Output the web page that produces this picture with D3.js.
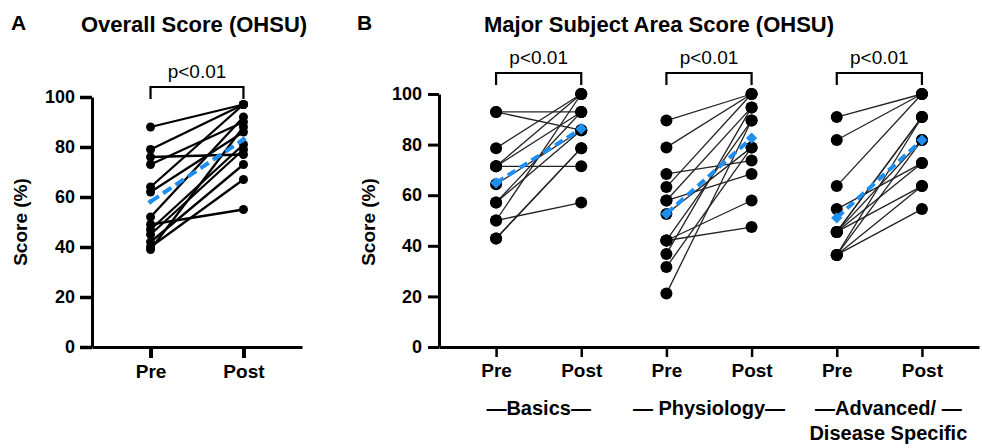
<!DOCTYPE html>
<html>
<head>
<meta charset="utf-8">
<script src="https://cdn.jsdelivr.net/npm/d3@7"></script>
<style>
  body { margin: 0; background: #fff; }
  svg { display: block; font-family: "Liberation Sans", Arial, sans-serif; }
  .axis path, .axis line { stroke: #000; }
  .axis text { font-weight: bold; fill: #000; }
</style>
</head>
<body>
<div id="app"></div>
<script>
// ---- data (scores in %) ----
const timepoints = ['Pre', 'Post']
const yTicks = [0, 20, 40, 60, 80, 100]

const overallPre  = [88, 79, 76, 73, 64, 62, 52, 49, 47, 45, 42, 40, 39]
const overallPost = [97, 97, 77, 90, 97, 86, 92, 55, 81, 79, 73, 67, 88]

const subjects = ['Basics', 'Physiology', 'Advanced']
const subjectLabels = [['\u2014Basics\u2014'], ['\u2014 Physiology\u2014'], ['\u2014Advanced/ \u2014', 'Disease Specific']]
const basicsPre  = [92.9, 92.9, 78.6, 71.4, 71.4, 71.4, 64.3, 57.1, 57.1, 50, 50, 42.9, 42.9]
const basicsPost = [92.9, 85.7, 100, 71.4, 100, 92.9, 85.7, 92.9, 85.7, 57.1, 100, 78.6, 78.6]
const physioPre  = [89.5, 78.9, 68.4, 63.2, 57.9, 57.9, 52.6, 42.1, 42.1, 42.1, 36.8, 31.6, 21.1]
const physioPost = [100, 100, 73.7, 100, 68.4, 94.7, 78.9, 57.9, 47.4, 89.5, 94.7, 78.9, 89.5]
const advPre  = [90.9, 81.8, 63.6, 54.5, 45.5, 45.5, 45.5, 45.5, 45.5, 36.4, 36.4, 36.4, 36.4]
const advPost = [100, 100, 100, 72.7, 90.9, 90.9, 81.8, 72.7, 63.6, 90.9, 63.6, 54.5, 81.8]

const pValue = 'p<0.01'
const BLUE = '#1f8ef1'

const svg = d3.select('#app').append('svg')
    .attr('width', 982)
    .attr('height', 448)

// draws the paired lines + dots + dashed mean for one Pre/Post group
const drawPairs = (g, x, y, pre, post, keys, opt) => {
    const pairs = pre.map((v, i) => [v, post[i]])
    g.append('g').selectAll('line').data(pairs).join('line')
        .attr('x1', x(keys[0])).attr('x2', x(keys[1]))
        .attr('y1', d => y(d[0])).attr('y2', d => y(d[1]))
        .attr('stroke', opt.lineColor).attr('stroke-width', opt.lineW)
    const pts = pre.map(v => [keys[0], v]).concat(post.map(v => [keys[1], v]))
    g.append('g').selectAll('circle').data(pts).join('circle')
        .attr('cx', d => x(d[0])).attr('cy', d => y(d[1]))
        .attr('r', opt.r).attr('fill', '#000')
    // mean line, dashed blue with diamond ends
    const m = [d3.mean(pre), d3.mean(post)]
    g.append('line')
        .attr('x1', x(keys[0])).attr('x2', x(keys[1]))
        .attr('y1', y(m[0])).attr('y2', y(m[1]))
        .attr('stroke', BLUE).attr('stroke-width', opt.meanW)
        .attr('stroke-dasharray', opt.dash)
    g.append('g').selectAll('path').data(m).join('path')
        .attr('d', d3.symbol(d3.symbolSquare, opt.diamond)())
        .attr('transform', (d, i) => `translate(${x(keys[i])},${y(d)}) rotate(45)`)
        .attr('fill', BLUE)
}

// significance bracket above a group
const bracket = (g, x0, x1, yTop, yLeg, label) => {
    g.append('path')
        .attr('d', `M${x0},${yLeg} V${yTop} H${x1} V${yLeg}`)
        .attr('fill', 'none').attr('stroke', '#000').attr('stroke-width', 2.2)
    g.append('text')
        .attr('x', (x0 + x1) / 2).attr('y', yTop - 9)
        .attr('text-anchor', 'middle')
        .style('font-size', '19px')
        .text(label)
}

// ================= panel A =================
const gA = svg.append('g')
const yA = d3.scaleLinear().domain([0, 100]).range([347, 97])
const xA = d3.scalePoint().domain(timepoints).range([92, 302]).padding(0.63)

gA.append('g').attr('class', 'axis')
    .attr('transform', 'translate(92,0)')
    .call(d3.axisLeft(yA).tickValues(yTicks).tickSize(12).tickSizeOuter(0).tickPadding(5))
    .call(a => a.select('.domain').attr('stroke-width', 3))
    .call(a => a.selectAll('.tick line').attr('stroke-width', 3.5))
    .call(a => a.selectAll('text').style('font-size', '18px'))

gA.append('g').attr('class', 'axis')
    .attr('transform', 'translate(0,347)')
    .call(d3.axisBottom(xA).tickSize(11).tickSizeOuter(0).tickPadding(7))
    .call(a => a.select('.domain').attr('stroke-width', 3))
    .call(a => a.selectAll('.tick line').attr('stroke-width', 4))
    .call(a => a.selectAll('text').style('font-size', '19px'))

drawPairs(gA, xA, yA, overallPre, overallPost, timepoints,
    { lineColor: '#000', lineW: 2.3, r: 4.5, meanW: 4, dash: '10,5', diamond: 20 })
bracket(gA, xA('Pre'), xA('Post'), 87, 99, pValue)

gA.append('text').attr('x', 11).attr('y', 30)
    .style('font-size', '21px').style('font-weight', 'bold').text('A')
gA.append('text').attr('x', 194).attr('y', 32).attr('text-anchor', 'middle')
    .style('font-size', '22px').style('font-weight', 'bold').text('Overall Score (OHSU)')
gA.append('text').attr('transform', 'translate(27,222) rotate(-90)')
    .attr('text-anchor', 'middle')
    .style('font-size', '19px').style('font-weight', 'bold').text('Score (%)')

// ================= panel B =================
const gB = svg.append('g')
const keysB = subjects.flatMap(s => timepoints.map(t => `${s}-${t}`))
const yB = d3.scaleLinear().domain([0, 100]).range([347, 94])
const xB = d3.scalePoint().domain(keysB).range([439, 979]).padding(0.67)

gB.append('g').attr('class', 'axis')
    .attr('transform', 'translate(439,0)')
    .call(d3.axisLeft(yB).tickValues(yTicks).tickSize(11).tickSizeOuter(0).tickPadding(6))
    .call(a => a.select('.domain').attr('stroke-width', 3))
    .call(a => a.selectAll('.tick line').attr('stroke-width', 3))
    .call(a => a.selectAll('text').style('font-size', '18px'))

gB.append('g').attr('class', 'axis')
    .attr('transform', 'translate(0,347)')
    .call(d3.axisBottom(xB).tickSize(10).tickSizeOuter(0).tickPadding(7)
        .tickFormat(k => k.split('-')[1]))
    .call(a => a.select('.domain').attr('stroke-width', 3))
    .call(a => a.selectAll('.tick line').attr('stroke-width', 2.5))
    .call(a => a.selectAll('text').style('font-size', '19px'))

const seriesB = [[basicsPre, basicsPost], [physioPre, physioPost], [advPre, advPost]]
subjects.forEach((s, i) => {
    const keys = timepoints.map(t => `${s}-${t}`)
    drawPairs(gB, xB, yB, seriesB[i][0], seriesB[i][1], keys,
        { lineColor: '#222', lineW: 1.3, r: 6, meanW: 4, dash: '9,5', diamond: 64 })
    bracket(gB, xB(keys[0]), xB(keys[1]), 73, 85, pValue)
    const cx = (xB(keys[0]) + xB(keys[1])) / 2 + (i === 2 ? 9 : 0)
    gB.append('text').attr('text-anchor', 'middle')
        .style('font-size', '20px').style('font-weight', 'bold')
        .selectAll('tspan').data(subjectLabels[i]).join('tspan')
        .attr('x', cx).attr('y', (d, j) => 415 + j * 25)
        .text(d => d)
})

gB.append('text').attr('x', 357).attr('y', 30)
    .style('font-size', '21px').style('font-weight', 'bold').text('B')
gB.append('text').attr('x', 659).attr('y', 32).attr('text-anchor', 'middle')
    .style('font-size', '22px').style('font-weight', 'bold').text('Major Subject Area Score (OHSU)')
gB.append('text').attr('transform', 'translate(375,222) rotate(-90)')
    .attr('text-anchor', 'middle')
    .style('font-size', '19px').style('font-weight', 'bold').text('Score (%)')
</script>
</body>
</html>
